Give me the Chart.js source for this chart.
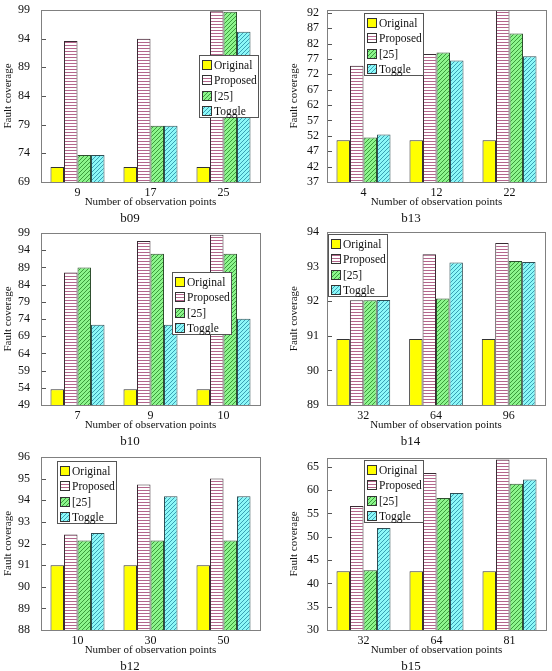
<!DOCTYPE html>
<html><head><meta charset="utf-8">
<script src="https://cdn.jsdelivr.net/npm/chart.js@4.4.0/dist/chart.umd.min.js"></script>
<style>
html,body{margin:0;padding:0;background:#fff;overflow:hidden;}
#wrap{position:relative;width:552px;height:671px;overflow:hidden;}
canvas{position:absolute;}
</style></head><body><div id="wrap"></div>
<script>
// ---------- DATA ----------
const seriesNames = ['Original', 'Proposed', '[25]', 'Toggle'];
const xAxisTitle = 'Number of observation points';
const yAxisTitle = 'Fault coverage';

// b09
const b09Points   = ['9', '17', '25'];
const b09Original = [71.6, 71.6, 71.6];
const b09Proposed = [93.6, 94.0, 98.8];
const b09Ref25    = [73.7, 78.8, 98.7];
const b09Toggle   = [73.7, 78.8, 95.2];
const b09YTicks   = [69, 74, 79, 84, 89, 94, 99];
const b09YRange   = [69, 99];

// b13
const b13Points   = ['4', '12', '22'];
const b13Original = [50.6, 50.6, 50.6];
const b13Proposed = [74.8, 78.6, 92.9];
const b13Ref25    = [51.5, 79.1, 85.3];
const b13Toggle   = [52.4, 76.5, 77.9];
const b13YTicks   = [37, 42, 47, 52, 57, 62, 67, 72, 77, 82, 87, 92];
const b13YRange   = [37, 92.9];

// b10
const b10Points   = ['7', '9', '10'];
const b10Original = [53.6, 53.6, 53.6];
const b10Proposed = [87.5, 96.7, 98.5];
const b10Ref25    = [89.0, 93.0, 93.0];
const b10Toggle   = [72.3, 72.3, 74.1];
const b10YTicks   = [49, 54, 59, 64, 69, 74, 79, 84, 89, 94, 99];
const b10YRange   = [49, 99];

// b14
const b14Points   = ['32', '64', '96'];
const b14Original = [90.91, 90.91, 90.91];
const b14Proposed = [92.03, 93.36, 93.69];
const b14Ref25    = [92.03, 92.08, 93.17];
const b14Toggle   = [92.04, 93.12, 93.14];
const b14YTicks   = [89, 90, 91, 92, 93, 94];
const b14YRange   = [89, 94];

// b12
const b12Points   = ['10', '30', '50'];
const b12Original = [91.0, 91.0, 91.0];
const b12Proposed = [92.42, 94.73, 95.01];
const b12Ref25    = [92.14, 92.14, 92.14];
const b12Toggle   = [92.48, 94.18, 94.18];
const b12YTicks   = [88, 89, 90, 91, 92, 93, 94, 95, 96];
const b12YRange   = [88, 96];

// b15
const b15Points   = ['32', '64', '81'];
const b15Original = [42.6, 42.6, 42.6];
const b15Proposed = [56.6, 63.7, 66.6];
const b15Ref25    = [42.8, 58.3, 61.4];
const b15Toggle   = [51.9, 59.4, 62.3];
const b15YTicks   = [30, 35, 40, 45, 50, 55, 60, 65];
const b15YRange   = [30, 66.9];

// ---------- STYLE / LAYOUT ----------
const FONT = '"Liberation Serif", "Times New Roman", serif';
const CW = 276, CH = 228;

function patH() {
  const c = document.createElement('canvas'); c.width = 4; c.height = 3;
  const x = c.getContext('2d');
  x.fillStyle = '#ffffff'; x.fillRect(0, 0, 4, 3);
  x.fillStyle = '#b4668c'; x.fillRect(0, 0, 4, 1);
  return x.createPattern(c, 'repeat');
}
function patD(bg, fg) {
  const s = 4, c = document.createElement('canvas'); c.width = s; c.height = s;
  const x = c.getContext('2d');
  x.fillStyle = bg; x.fillRect(0, 0, s, s);
  x.fillStyle = fg;
  for (let i = 0; i < s; i++) x.fillRect(i, s - 1 - i, 1, 1);
  return x.createPattern(c, 'repeat');
}
const fills = ['#ffff00', patH(), patD('#8cf58c', '#3c9c3c'), patD('#8cf8f8', '#3aa0b4')];
const borders = ['#333333', '#3a2a33', '#2f4f2f', '#2f4f55'];

const framePlugin = {
  id: 'frame',
  afterDraw(chart) {
    const ctx = chart.ctx, a = chart.chartArea, ys = chart.scales.y;
    ctx.save();
    ctx.strokeStyle = '#555';
    ctx.lineWidth = 1;
    ys.ticks.forEach(t => {
      const py = Math.round(ys.getPixelForValue(t.value)) + 0.5;
      ctx.beginPath(); ctx.moveTo(a.left, py); ctx.lineTo(a.left + 5, py); ctx.stroke();
    });
    ctx.strokeStyle = '#808080';
    ctx.strokeRect(Math.round(a.left) + 0.5, Math.round(a.top) + 0.5,
                   Math.round(a.right - a.left), Math.round(a.bottom - a.top));
    ctx.restore();
  }
};

const boxLegendPlugin = {
  id: 'boxLegend',
  afterDraw(chart, args, opts) {
    const ctx = chart.ctx, x = opts.x, y = opts.y, w = 59, h = 62;
    ctx.save();
    ctx.fillStyle = '#fff'; ctx.fillRect(x, y, w, h);
    ctx.strokeStyle = '#555'; ctx.lineWidth = 1;
    ctx.strokeRect(x + 0.5, y + 0.5, w, h);
    ctx.font = '11.5px ' + FONT;
    ctx.textBaseline = 'middle';
    chart.data.datasets.forEach((ds, i) => {
      const cy = Math.round(y + 10 + i * 15.3);
      ctx.fillStyle = ds.backgroundColor;
      ctx.fillRect(x + 4, cy - 4, 8, 8);
      ctx.strokeStyle = '#333';
      ctx.strokeRect(x + 3.5, cy - 4.5, 9, 9);
      ctx.fillStyle = '#111';
      ctx.fillText(ds.label, x + 15, cy + 1);
    });
    ctx.restore();
  }
};

function makeChart(name, pos, cats, series, yTicks, yRange) {
  const cv = document.createElement('canvas');
  cv.width = CW; cv.height = CH;
  cv.style.left = pos.left + 'px'; cv.style.top = pos.top + 'px';
  document.getElementById('wrap').appendChild(cv);
  const left = pos.left === 0;
  const B = pos.B;
  const padBottom = CH - B - 44.1;
  const xH = 28.5;
  new Chart(cv.getContext('2d'), {
    type: 'bar',
    data: {
      labels: cats,
      datasets: series.map((vals, i) => ({
        label: seriesNames[i],
        data: vals,
        backgroundColor: fills[i],
        borderColor: borders[i],
        borderWidth: 1,
        borderSkipped: 'start',
        categoryPercentage: 0.74,
        barPercentage: 1.0
      }))
    },
    options: {
      responsive: false,
      animation: false,
      devicePixelRatio: 1,
      layout: { autoPadding: false, padding: { left: 0, right: CW - pos.R, top: pos.T, bottom: padBottom } },
      plugins: {
        legend: { display: false },
        tooltip: { enabled: false },
        title: { display: true, text: name, position: 'bottom', padding: 0,
                 color: '#111', font: { family: FONT, size: 13, weight: 'normal', lineHeight: 1.2 } },
        boxLegend: { x: pos.legend[0], y: pos.legend[1] }
      },
      scales: {
        x: {
          grid: { display: false, drawTicks: false },
          border: { display: false },
          ticks: { color: '#111', padding: 3.5, autoSkip: false, maxRotation: 0,
                   font: { family: FONT, size: 12, lineHeight: 1.2 } },
          title: { display: true, text: xAxisTitle, color: '#111', padding: { top: 0, bottom: 2.2 },
                   font: { family: FONT, size: 11, lineHeight: 1.2 } },
          afterFit(s) { s.height = xH; }
        },
        y: {
          min: yRange[0], max: yRange[1],
          grid: { display: false, drawTicks: true, tickLength: left ? 11 : 8 },
          border: { display: false },
          afterBuildTicks(s) { s.ticks = yTicks.map(v => ({ value: v })); },
          ticks: { color: '#111', padding: 0, autoSkip: false,
                   font: { family: FONT, size: 12, lineHeight: 1.2 } },
          title: { display: true, text: yAxisTitle, color: '#111', padding: { top: left ? 1.4 : 11.7, bottom: 0 },
                   font: { family: FONT, size: 11, lineHeight: 1.2 } },
          afterFit(s) { s.width = pos.L; }
        }
      }
    },
    plugins: [framePlugin, boxLegendPlugin]
  });
}

makeChart('b09', {left: 0,   top: 0,   L: 41, R: 260, T: 10, B: 182, legend: [199, 55]},
  b09Points, [b09Original, b09Proposed, b09Ref25, b09Toggle], b09YTicks, b09YRange);
makeChart('b13', {left: 276, top: 0,   L: 51, R: 270, T: 10, B: 182, legend: [88, 13]},
  b13Points, [b13Original, b13Proposed, b13Ref25, b13Toggle], b13YTicks, b13YRange);
makeChart('b10', {left: 0,   top: 225, L: 41, R: 260, T: 8,  B: 180, legend: [172, 47]},
  b10Points, [b10Original, b10Proposed, b10Ref25, b10Toggle], b10YTicks, b10YRange);
makeChart('b14', {left: 276, top: 225, L: 51, R: 269, T: 7,  B: 180, legend: [52, 9]},
  b14Points, [b14Original, b14Proposed, b14Ref25, b14Toggle], b14YTicks, b14YRange);
makeChart('b12', {left: 0,   top: 448, L: 41, R: 260, T: 9,  B: 182, legend: [57, 13]},
  b12Points, [b12Original, b12Proposed, b12Ref25, b12Toggle], b12YTicks, b12YRange);
makeChart('b15', {left: 276, top: 448, L: 51, R: 270, T: 10, B: 182, legend: [88, 12]},
  b15Points, [b15Original, b15Proposed, b15Ref25, b15Toggle], b15YTicks, b15YRange);
</script>
</body></html>
